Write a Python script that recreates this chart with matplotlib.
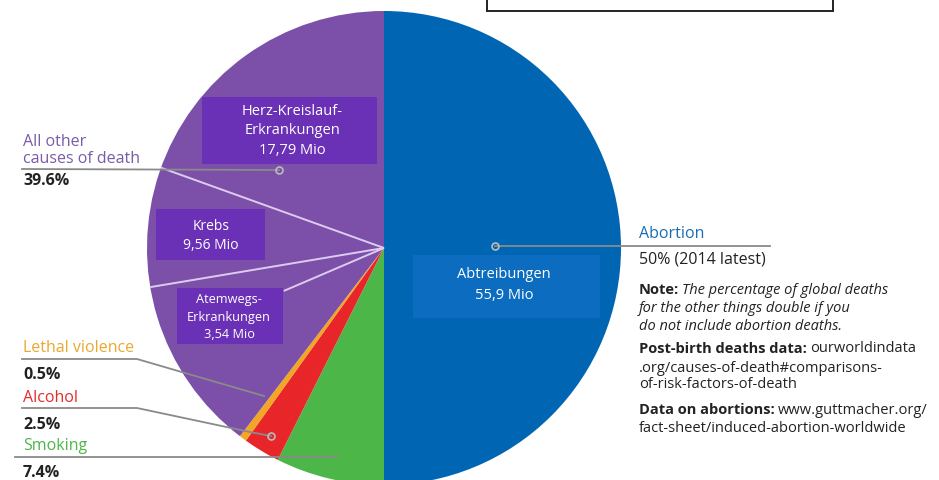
import math
import matplotlib
matplotlib.use("Agg")
import matplotlib.pyplot as plt
from matplotlib.patches import Rectangle

# ---- data ----
slice_names = ["Abortion", "Smoking", "Alcohol", "Lethal violence", "All other causes of death"]
slice_values = [50.0, 7.4, 2.5, 0.5, 39.6]
slice_pct_labels = ["50% (2014 latest)", "7.4%", "2.5%", "0.5%", "39.6%"]
sub_names = ["Herz-Kreislauf-\nErkrankungen\n17,79 Mio", "Krebs\n9,56 Mio", "Atemwegs-\nErkrankungen\n3,54 Mio"]
abort_box = "Abtreibungen\n55,9 Mio"

# ---- style ----
W, H = 939, 480
FONT = "Open Sans"
FAM = [FONT, 'DejaVu Sans']
plt.rcParams['font.family'] = FAM
colors = ["#0066b3", "#4cb748", "#e8262a", "#f3a623", "#7c4fa8"]
label_colors = ["#1a6db3", "#4cb748", "#e52a2a", "#eaa82f", "#7a5ba8"]
box_purple = "#6a30b6"
box_blue = "#0b6cc0"
line_gray = "#8a8a8a"
CX, CY, R = 384, 248, 237

def Y(y):
    return H - y

fig = plt.figure(figsize=(W / 100, H / 100), dpi=100)
ax = fig.add_axes([0, 0, 1, 1])
ax.pie(slice_values, colors=colors, startangle=90, counterclock=False,
       center=(CX, Y(CY)), radius=R, frame=True,
       wedgeprops=dict(linewidth=0))
ax.set_xlim(0, W)
ax.set_ylim(0, H)
ax.set_aspect('auto')
ax.axis('off')

# divider lines inside "all other" wedge (angle deg, fraction of radius)
for ang, frac in [(160.2, 1.0), (189.5, 1.0), (203.2, 0.46)]:
    a = math.radians(ang)
    ax.plot([CX, CX + R * frac * math.cos(a)], [Y(CY), Y(CY) + R * frac * math.sin(a)],
            color="#dccdf0", lw=1.4, zorder=3, solid_capstyle='butt')

# sub boxes
def box(x0, y0, x1, y1, color, text, cx, cy, fs, ls=1.45):
    ax.add_patch(Rectangle((x0, Y(y1)), x1 - x0, y1 - y0, facecolor=color, edgecolor='none', zorder=4))
    ax.text(cx, Y(cy), text, color="white", fontsize=fs, ha='center', va='center',
            linespacing=ls, zorder=5)

box(202, 97, 377, 164, box_purple, sub_names[0], 292, 131, 10.5, ls=1.45)
box(156, 209, 265, 260, box_purple, sub_names[1], 211, 236, 10, ls=1.45)
box(177, 288, 283, 344, box_purple, sub_names[2], 229, 317, 9.2, ls=1.5)
box(413, 255, 600, 318, box_blue, abort_box, 504, 285, 10.5, ls=1.55)

# leader lines
def leader(pts, circle=True, color=line_gray):
    xs = [p[0] for p in pts]
    ys = [Y(p[1]) for p in pts]
    ax.plot(xs, ys, color=color, lw=1.3, zorder=6)
    if circle:
        ax.plot(xs[-1], ys[-1], 'o', ms=5, mfc='none', mec="#bbbbbb", mew=1.2, zorder=7)

leader([(22, 169), (279, 170)])
leader([(770, 246), (495, 246)])
leader([(22, 359), (137, 359), (264, 396)], circle=False)
leader([(22, 408), (137, 408), (250, 432), (271, 436)])
leader([(15, 457), (337, 457)], circle=False)

# labels
def lab(x, y, s, color, fs=11.5, weight='normal', style='normal'):
    return ax.text(x, Y(y), s, color=color, fontsize=fs, ha='left', va='center',
                   fontweight=weight, fontstyle=style, zorder=8)

lab(23, 142, "All other", label_colors[4])
lab(23, 159, "causes of death", label_colors[4])
lab(23, 181, slice_pct_labels[4], "#222222", weight='bold')
lab(23, 348, slice_names[3], label_colors[3])
lab(23, 375, slice_pct_labels[3], "#222222", weight='bold')
lab(23, 398, slice_names[2], label_colors[2])
lab(23, 425, slice_pct_labels[2], "#222222", weight='bold')
lab(23, 446, slice_names[1], label_colors[1])
lab(23, 473, slice_pct_labels[1], "#222222", weight='bold')

RX = 639
lab(RX, 234, slice_names[0], label_colors[0], fs=11.5)
lab(RX, 259, slice_pct_labels[0], "#222222", fs=11.5)

fig.canvas.draw()
renderer = fig.canvas.get_renderer()
NFS = 10.5

def mixed(y, bold, rest, style='normal'):
    t = lab(RX, y, bold, "#222222", fs=NFS, weight='bold')
    bb = t.get_window_extent(renderer)
    lab(bb.x1 + 3, y, rest, "#222222", fs=NFS, style=style)

mixed(290, "Note:", "The percentage of global deaths", style='italic')
lab(RX, 308, "for the other things double if you", "#222222", fs=NFS, style='italic')
lab(RX, 326, "do not include abortion deaths.", "#222222", fs=NFS, style='italic')
mixed(349, "Post-birth deaths data:", "ourworldindata")
lab(RX, 368, ".org/causes-of-death#comparisons-", "#222222", fs=NFS)
lab(RX, 385, "of-risk-factors-of-death", "#222222", fs=NFS)
mixed(410, "Data on abortions:", "www.guttmacher.org/")
lab(RX, 428, "fact-sheet/induced-abortion-worldwide", "#222222", fs=NFS)

# top empty box
ax.add_patch(Rectangle((487, Y(11)), 833 - 487, 20, facecolor='white', edgecolor='#222222', lw=1.4, zorder=9))

fig.savefig("out.png", dpi=100)
